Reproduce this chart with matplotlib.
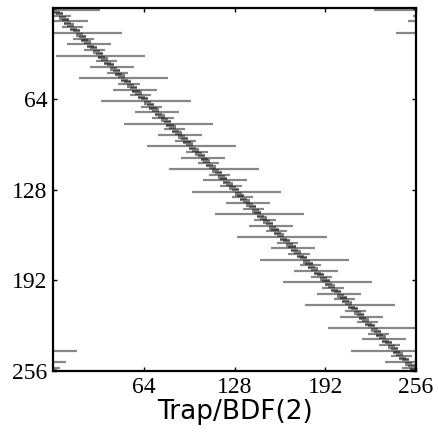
# spy-style plot of the Trap/BDF(2) matrix pattern

# ===================
# INITIALIZATION
# ===================
import numpy as np
import matplotlib
matplotlib.use("Agg")
import matplotlib.pyplot as plt

# ================================
# SETTINGS AND DATA
# ================================
n = 256
# half-width of the nonzero run in each row, repeating every 16 rows
# (cycle starts at row 1)
half_width_cycle = [31, 2, 3, 2, 7, 2, 3, 2, 15, 2, 3, 2, 7, 2, 3, 2]
cycle_start = 1
tick_values = [64, 128, 192, 256]
tick_labels = ["64", "128", "192", "256"]
xlabel = "Trap/BDF(2)"

# ========================
# BUILD ROW SEGMENTS
# ========================
def row_segments(n, cycle, start):
    ys, x0s, x1s = [], [], []
    for r in range(n):
        h = cycle[(r - start) % len(cycle)]
        a, b = r - h, r + h + 1
        pieces = [(max(a, 0), min(b, n))]
        if a < 0:
            pieces.append((a + n, n))  # periodic wrap
        if b > n:
            pieces.append((0, b - n))
        for p0, p1 in pieces:
            ys.append(r + 0.5)
            x0s.append(p0)
            x1s.append(p1)
    return np.array(ys), np.array(x0s), np.array(x1s)

ys, x0s, x1s = row_segments(n, half_width_cycle, cycle_start)

# =================
# PLOT
# =================
fig = plt.figure(figsize=(4.38, 4.45), dpi=100)
ax = fig.add_axes([0.121, 0.166, 0.829, 0.816])

ax.hlines(ys, x0s, x1s, colors="black", alpha=0.47, linewidth=1.6)

ax.set_xlim(0, n)
ax.set_ylim(n, 0)
ax.set_xticks(tick_values)
ax.set_yticks(tick_values)
ax.set_xticklabels(tick_labels, family="Liberation Serif", fontsize=17)
ax.set_yticklabels(tick_labels, family="Liberation Serif", fontsize=17)
ax.tick_params(direction="in", length=3, width=1, top=True, right=True, pad=4)
for s in ax.spines.values():
    s.set_linewidth(1.6)
ax.set_xlabel(xlabel, family="DejaVu Sans", fontsize=19, labelpad=1)

fig.savefig("out.png", dpi=100)
